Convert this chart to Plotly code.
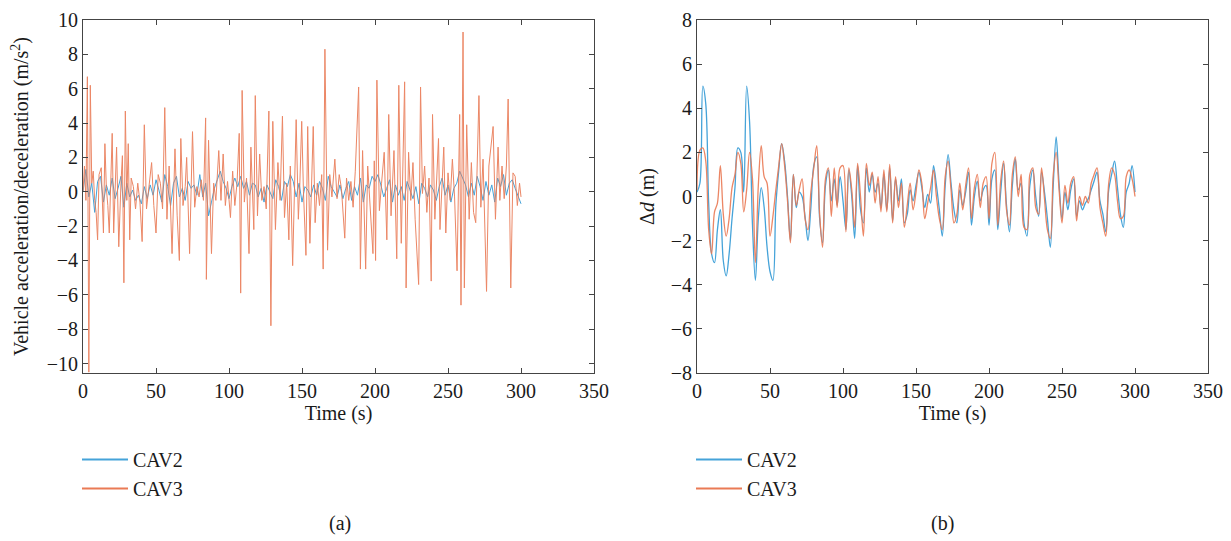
import plotly.graph_objects as go

# ---------------- Data ----------------
# (a) Vehicle acceleration/deceleration
t_a_cav2 = list(range(0, 301, 2))
a_cav2 = [
    0.0, 1.3, -0.3, 0.5, -1.2, 0.6, 0.9, -0.6, 0.4, -0.2,
    0.8, -0.4, 0.2, 0.9, -0.9, 0.5, -0.3, 0.1, -0.5, -0.2,
    -0.7, 0.3, -0.4, 0.4, -0.2, 0.7, 0.1, -0.6, 1.0, 0.3,
    -0.8, 0.5, 0.9, -0.3, 0.2, -0.5, 0.6, 0.2, 0.4, -0.2,
    1.0, -0.3, 0.5, -1.4, -0.6, 0.2, 0.7, 1.2, 0.6, 0.2,
    -0.4, 0.3, 0.8, 0.3, 0.9, 0.2, 0.6, -0.2, 0.5, 0.4,
    -0.3, 0.2, -0.6, 0.4, 0.0, -0.4, 0.7, 0.3, -0.5, 0.6,
    0.3, 1.0, 0.6, -0.3, 0.5, -0.6, 0.3, 0.1, -0.3, 0.4,
    -0.2, 0.6, 0.2, -0.5, 0.9, 0.3, 0.0, -0.3, 0.4, -0.4,
    0.2, 0.6, -0.5, 0.3, -0.2, 0.8, -0.6, 0.4, 0.2, 0.9,
    0.6, 1.0, 0.4, -0.3, 0.2, 0.7, -0.6, 0.4, -0.2, 0.3,
    -0.5, 0.6, 0.1, -0.4, 0.3, -0.7, 0.5, 0.2, -0.3, 0.4,
    0.1, -0.5, 0.3, 0.8, -0.2, 0.4, -0.6, 0.2, 0.5, 1.2,
    0.8, 0.4, -0.3, 0.5, -0.2, 0.9, 0.3, -0.5, 0.6, -0.2,
    0.4, -0.6, 0.8, 0.3, 1.0, -0.2, 0.5, 0.7, 0.2, -0.3,
    -0.7,
]

t_a_cav3 = [
    0, 1, 2, 3, 4, 5, 6, 7, 8, 9, 10, 11, 12.5, 14, 15, 16, 17, 18, 20, 21,
    23, 24.5, 26, 27, 28, 29, 30, 31, 32, 33, 34.5, 36, 37.5, 39, 40.5, 42, 43.5, 45, 47, 48.5,
    50, 51.5, 53, 54.5, 56, 57.5, 59, 61, 63, 64.5, 66, 67, 68.5, 70, 71, 73, 75, 76.5, 78, 79.5,
    81, 82.5, 84, 84.5, 86, 88, 89.5, 91, 93, 94.5, 96, 97.5, 99, 101, 102.5, 104, 105.5, 107, 108, 109,
    110.5, 112, 113.7, 115, 117, 118, 119.5, 121, 122.5, 124, 125.5, 127.3, 128.7, 130, 131.8, 133.5, 135, 136.6, 138, 139.5,
    141, 142, 143.6, 146, 147.5, 148.5, 149.8, 151, 152.7, 153.9, 155.4, 157.7, 159, 160.5, 162, 163.5, 164.5, 165.7, 167.5, 169,
    170.5, 172.5, 174, 175.5, 177, 179.3, 180.5, 182, 183.5, 185, 186.5, 188.8, 190, 191.5, 193.6, 195, 196.5, 198.6, 199.5, 200.4,
    201.3, 203, 204.5, 206.3, 208.1, 209.4, 211, 213, 214.9, 216.3, 218, 219, 220.3, 221.3, 223, 224.5, 226, 227.5, 229.9, 231.2,
    232.5, 234, 235.5, 237, 238.5, 239.4, 241, 243.5, 244.5, 247.1, 248.5, 250, 251.5, 253, 254.5, 256.2, 258, 258.9, 260.3, 261.2,
    262.8, 264.5, 266, 267.5, 269, 271.2, 272.5, 274, 276.4, 278, 280.9, 282.5, 284.3, 285.5, 287, 288.5, 290, 291.2, 293, 294.5,
    296, 297.5, 299, 300,
]
a_cav3 = [
    0.0, 1.5, -0.5, 6.7, -10.5, 6.2, 0.5, 1.2, -0.5, -1.2, -2.8, 1.0, 1.4, -2.4, 2.8, 0.2, -0.8, -2.4, 3.4, -2.4,
    2.6, -3.2, 0.5, 2.1, -5.3, 4.7, -0.5, 2.8, -2.8, 0.8, 0.3, -1.0, 0.5, -0.6, -2.9, 3.9, -1.0, 0.2, 1.7, -0.8,
    -2.4, 1.0, 0.5, -1.0, 4.9, -1.6, 1.5, -3.6, 2.5, -1.4, -4.0, 3.1, -0.8, 0.3, 2.0, -3.6, 3.5, -0.9, 0.3, -0.3,
    0.7, -0.5, 4.3, -5.1, 3.0, -3.6, 0.5, -0.5, 2.4, -0.5, 2.2, -0.8, 0.6, -1.5, 1.2, -0.8, 0.5, 3.4, -5.9, 5.9,
    -0.6, 0.8, -3.6, 2.6, -2.2, 5.6, -1.4, 2.2, -0.5, 0.3, -1.0, 4.7, -7.8, 4.1, -2.2, 1.7, -0.5, 4.4, -1.5, 0.5,
    -2.8, 1.5, -4.3, 4.2, -1.6, 0.4, 4.1, 0.0, -3.7, 3.8, -3.0, 3.8, -1.8, 0.5, -0.8, 1.0, -4.5, 8.3, -3.4, 1.0,
    -0.3, 1.9, -0.4, 1.0, 0.2, -2.7, 0.8, -0.5, 0.6, -0.9, 1.2, 6.1, -4.5, 2.4, -4.5, 1.5, -0.5, -3.6, 1.8, -4.0,
    6.5, -1.1, 0.5, 2.3, -2.8, 4.5, -1.4, 2.4, -3.9, 6.2, -3.0, 1.0, 6.4, -5.6, 2.3, -0.5, 1.7, -1.6, -5.4, 6.1,
    -0.1, 1.5, -1.2, 0.8, -5.2, 4.5, -1.6, 3.1, -2.2, 2.6, -2.4, 1.1, -0.5, 1.9, -0.3, -4.6, 4.5, -6.6, 9.3, -5.6,
    3.9, -1.6, 1.7, -1.2, -1.8, 5.6, -0.9, 1.9, -5.8, 1.5, 3.8, -1.6, 2.6, -0.5, 1.5, -0.4, 1.5, 5.4, -5.6, 1.1,
    0.9, -0.8, 0.5, -0.3,
]

# (b) Spacing error
t_b = list(range(0, 301, 2))
d_cav2 = [
    0.2, 0.6, 5.0, 4.2, -0.3, -2.6, -3.0, -1.5, -0.6, -2.9,
    -3.6, -2.6, -1.0, 0.4, 2.2, 2.0, 0.2, 5.0, 3.4, -1.3,
    -3.8, -1.0, 0.4, -0.5, -2.3, -3.4, -3.8, -0.4, 1.2, 2.4,
    1.6, 0.0, -2.0, 1.0, -0.5, 0.2, 0.0, -0.9, -2.0, -0.5,
    1.4, 1.8, -1.0, -2.1, 0.5, 1.2, -0.2, 0.8, -0.4, 0.9,
    -0.2, -1.5, 1.2, 0.0, -1.9, 1.4, -0.6, -1.2, 1.3, 0.2,
    1.0, 0.2, 0.6, -0.5, 1.0, -0.6, 1.3, -1.1, 0.8, -0.2,
    0.8, -1.2, -0.8, 0.3, -0.2, 0.5, 1.1, 0.4, -0.5, 0.1,
    -0.3, 1.4, 0.5, -0.6, -1.8, 0.5, 1.9, 0.6, -0.6, -1.2,
    0.3, -0.4, 0.2, 1.1, -1.3, 0.0, 0.7, -0.2, 0.3, 0.5,
    -1.3, 0.8, 1.2, -1.5, 0.2, 1.5, -0.4, -1.6, 0.5, 1.7,
    0.3, 0.6, -1.2, -1.8, 0.5, 1.2, 0.0, -0.9, 1.1, 0.2,
    -1.0, -2.3, 0.5, 2.7, 0.6, -1.0, 0.2, -0.6, 0.3, 0.8,
    -0.9, -0.2, -0.6, -0.3, -0.1, 0.3, 0.7, 1.1, -0.2, -0.8,
    -1.6, 0.3, 1.0, 1.6, 0.4, -0.8, -1.4, 0.2, 0.6, 1.4,
    0.2,
]
d_cav3 = [
    0.3, 2.1, 2.2, 1.6, -1.5, -2.6, -0.7, -0.3, 1.4, -0.8,
    -1.8, -1.0, 0.4, 1.0, 2.0, 1.5, -0.7, 0.3, 2.0, 0.8,
    -3.0, 0.5, 2.3, 0.9, 0.6, -1.8, -0.9, 0.3, 1.4, 2.4,
    1.4, -0.2, -2.1, 1.0, -0.4, 0.3, 0.8, -1.0, -1.5, 0.2,
    1.3, 2.3, -0.8, -2.3, 0.8, 1.3, -0.9, 1.3, -0.5, 1.3,
    1.4, -1.6, 1.3, 0.3, -1.4, 1.5, 0.0, -1.8, 1.5, 0.5,
    1.1, -0.3, 0.9, -0.7, 1.2, -0.7, 1.45, -1.2, 0.9, -0.5,
    0.6, -1.4, -0.4, 0.6, -0.6, 0.2, 1.2, 0.6, -1.0, -0.3,
    0.4, 1.2, 0.0, -1.0, -1.5, 0.9, 1.6, 0.3, -1.2, -0.8,
    0.6, -0.6, 0.5, 1.3, -1.0, 0.4, 1.0, -0.5, 0.6, 0.9,
    -1.0, 1.5, 2.0, -1.3, 0.7, 1.6, -0.6, -1.3, 1.0, 1.8,
    0.0, 1.0, -1.4, -1.5, 1.0, 1.3, -0.5, -0.8, 1.3, -0.1,
    -1.5, -1.9, 1.0, 2.0, 0.3, -1.2, 0.5, -0.3, 0.6, 0.9,
    -1.1, 0.0, -0.4, 0.0, -0.3, 0.6, 1.0, 1.3, -0.5, -1.2,
    -1.8, 0.6, 1.3, 1.0, -0.2, -1.0, -0.9, 0.9, 1.2, 0.8,
    0.0,
]

series_names = ["CAV2", "CAV3"]
x_ticks = [0, 50, 100, 150, 200, 250, 300, 350]
ya_ticks = [-10, -8, -6, -4, -2, 0, 2, 4, 6, 8, 10]
yb_ticks = [-8, -6, -4, -2, 0, 2, 4, 6, 8]

# ---------------- Styling ----------------
BLUE = "#45a3d9"
ORANGE = "#ea7a55"
COLORS = [BLUE, ORANGE]
FONT = "Liberation Serif"
FS = 20
W, H = 1231, 541

fig = go.Figure()
# data traces (legend handled by separate legend entries with thicker lines)
fig.add_trace(go.Scatter(x=t_a_cav2, y=a_cav2, mode="lines", name="CAV2", showlegend=False,
                         line=dict(color=BLUE, width=1), xaxis="x", yaxis="y"))
fig.add_trace(go.Scatter(x=t_a_cav3, y=a_cav3, mode="lines", name="CAV3", showlegend=False,
                         line=dict(color=ORANGE, width=1), opacity=0.9, xaxis="x", yaxis="y"))
fig.add_trace(go.Scatter(x=t_b, y=d_cav2, mode="lines", name="CAV2", showlegend=False,
                         line=dict(color=BLUE, width=1.3, shape="spline", smoothing=1),
                         xaxis="x2", yaxis="y2"))
fig.add_trace(go.Scatter(x=t_b, y=d_cav3, mode="lines", name="CAV3", showlegend=False,
                         line=dict(color=ORANGE, width=1.3, shape="spline", smoothing=1), opacity=0.9,
                         xaxis="x2", yaxis="y2"))

# legend entries
for leg, xa, ya in [("legend", "x", "y"), ("legend2", "x2", "y2")]:
    for name, col in zip(series_names, COLORS):
        fig.add_trace(go.Scatter(x=[None], y=[None], mode="lines", name=name,
                                 line=dict(color=col, width=2.2), xaxis=xa, yaxis=ya, legend=leg))

ydom = [1 - 373 / H, 1 - 20 / H]
ax_common = dict(showline=True, linecolor="#444", linewidth=1, mirror="allticks",
                 ticks="inside", ticklen=5, tickcolor="#444", showgrid=False, zeroline=False,
                 automargin=False, tickfont=dict(family=FONT, size=FS, color="#1a1a1a"))
title_font = dict(family=FONT, size=FS, color="#1a1a1a")
leg_common = dict(xanchor="left", yanchor="top", bgcolor="rgba(0,0,0,0)", itemwidth=46,
                  font=dict(family=FONT, size=FS, color="#1a1a1a"), tracegroupgap=0)

fig.update_layout(
    width=W, height=H,
    margin=dict(l=0, r=0, t=0, b=0, autoexpand=False),
    paper_bgcolor="white", plot_bgcolor="white",
    font=dict(family=FONT, size=FS, color="#1a1a1a"),
    xaxis=dict(domain=[83 / W, 594 / W], range=[0, 350], tickvals=x_ticks, anchor="y",
               title=dict(text="Time (s)", standoff=4, font=title_font), **ax_common),
    yaxis=dict(domain=ydom, range=[-10.55, 10], tickvals=ya_ticks, anchor="x",
               title=dict(text="Vehicle acceleration/deceleration (m/s<sup>2</sup>)", standoff=12,
                          font=title_font), **ax_common),
    xaxis2=dict(domain=[697 / W, 1208 / W], range=[0, 350], tickvals=x_ticks, anchor="y2",
                title=dict(text="Time (s)", standoff=4, font=title_font), **ax_common),
    yaxis2=dict(domain=ydom, range=[-8, 8], tickvals=yb_ticks, anchor="x2",
                title=dict(text="Δ<i>d</i> (m)", standoff=10, font=title_font), **ax_common),
    legend=dict(x=77 / W, y=1 - 440 / H, **leg_common),
    legend2=dict(x=691 / W, y=1 - 440 / H, **leg_common),
    annotations=[
        dict(text="(a)", x=340 / W, y=1 - 523 / H, xref="paper", yref="paper", showarrow=False,
             xanchor="center", yanchor="middle", font=title_font),
        dict(text="(b)", x=942 / W, y=1 - 523 / H, xref="paper", yref="paper", showarrow=False,
             xanchor="center", yanchor="middle", font=title_font),
    ],
)

fig.write_html("out.html")
